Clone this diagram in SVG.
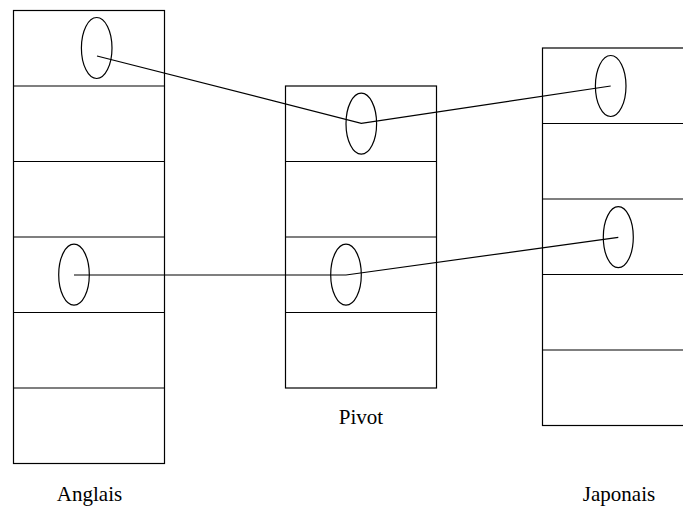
<svg xmlns="http://www.w3.org/2000/svg" width="683" height="507" viewBox="0 0 683 507">
<style>
.cell{fill:none;stroke:#000;stroke-width:1.2}
.el{fill:none;stroke:#000;stroke-width:1.2}
.conn{fill:none;stroke:#000;stroke-width:1.2}
.lbl{font-family:'Liberation Serif', serif;font-size:21px;fill:#000;text-anchor:middle}
</style>
<rect width="683" height="507" fill="#fff"/>
<g id="anglais">
<rect class="cell" x="13.5" y="10.5" width="151" height="453"/>
<line class="cell" x1="13.5" y1="86" x2="164.5" y2="86"/>
<line class="cell" x1="13.5" y1="161.5" x2="164.5" y2="161.5"/>
<line class="cell" x1="13.5" y1="237" x2="164.5" y2="237"/>
<line class="cell" x1="13.5" y1="312.5" x2="164.5" y2="312.5"/>
<line class="cell" x1="13.5" y1="388" x2="164.5" y2="388"/>
<ellipse class="el" cx="96.7" cy="48" rx="15.3" ry="30.5"/>
<ellipse class="el" cx="74" cy="274.7" rx="15.3" ry="30.5"/>
<text class="lbl" x="89.5" y="501">Anglais</text>
</g>
<g id="pivot">
<rect class="cell" x="285.5" y="86" width="151" height="302"/>
<line class="cell" x1="285.5" y1="161.5" x2="436.5" y2="161.5"/>
<line class="cell" x1="285.5" y1="237" x2="436.5" y2="237"/>
<line class="cell" x1="285.5" y1="312.5" x2="436.5" y2="312.5"/>
<ellipse class="el" cx="361.3" cy="123.7" rx="15.3" ry="30.5"/>
<ellipse class="el" cx="346" cy="274.7" rx="15.3" ry="30.5"/>
<text class="lbl" x="361" y="424">Pivot</text>
</g>
<g id="japonais">
<rect class="cell" x="542.5" y="48" width="151" height="377.5"/>
<line class="cell" x1="542.5" y1="123.5" x2="693.5" y2="123.5"/>
<line class="cell" x1="542.5" y1="199" x2="693.5" y2="199"/>
<line class="cell" x1="542.5" y1="274.5" x2="693.5" y2="274.5"/>
<line class="cell" x1="542.5" y1="350" x2="693.5" y2="350"/>
<ellipse class="el" cx="610.7" cy="86" rx="15.3" ry="30.5"/>
<ellipse class="el" cx="618.3" cy="237.2" rx="15" ry="30.5"/>
<text class="lbl" x="619" y="501">Japonais</text>
</g>
<g id="connectors">
<polyline class="conn" points="97,56 361.3,123.3 610.7,86"/>
<polyline class="conn" points="74,275 346,275 618.3,237.3"/>
</g>
</svg>
